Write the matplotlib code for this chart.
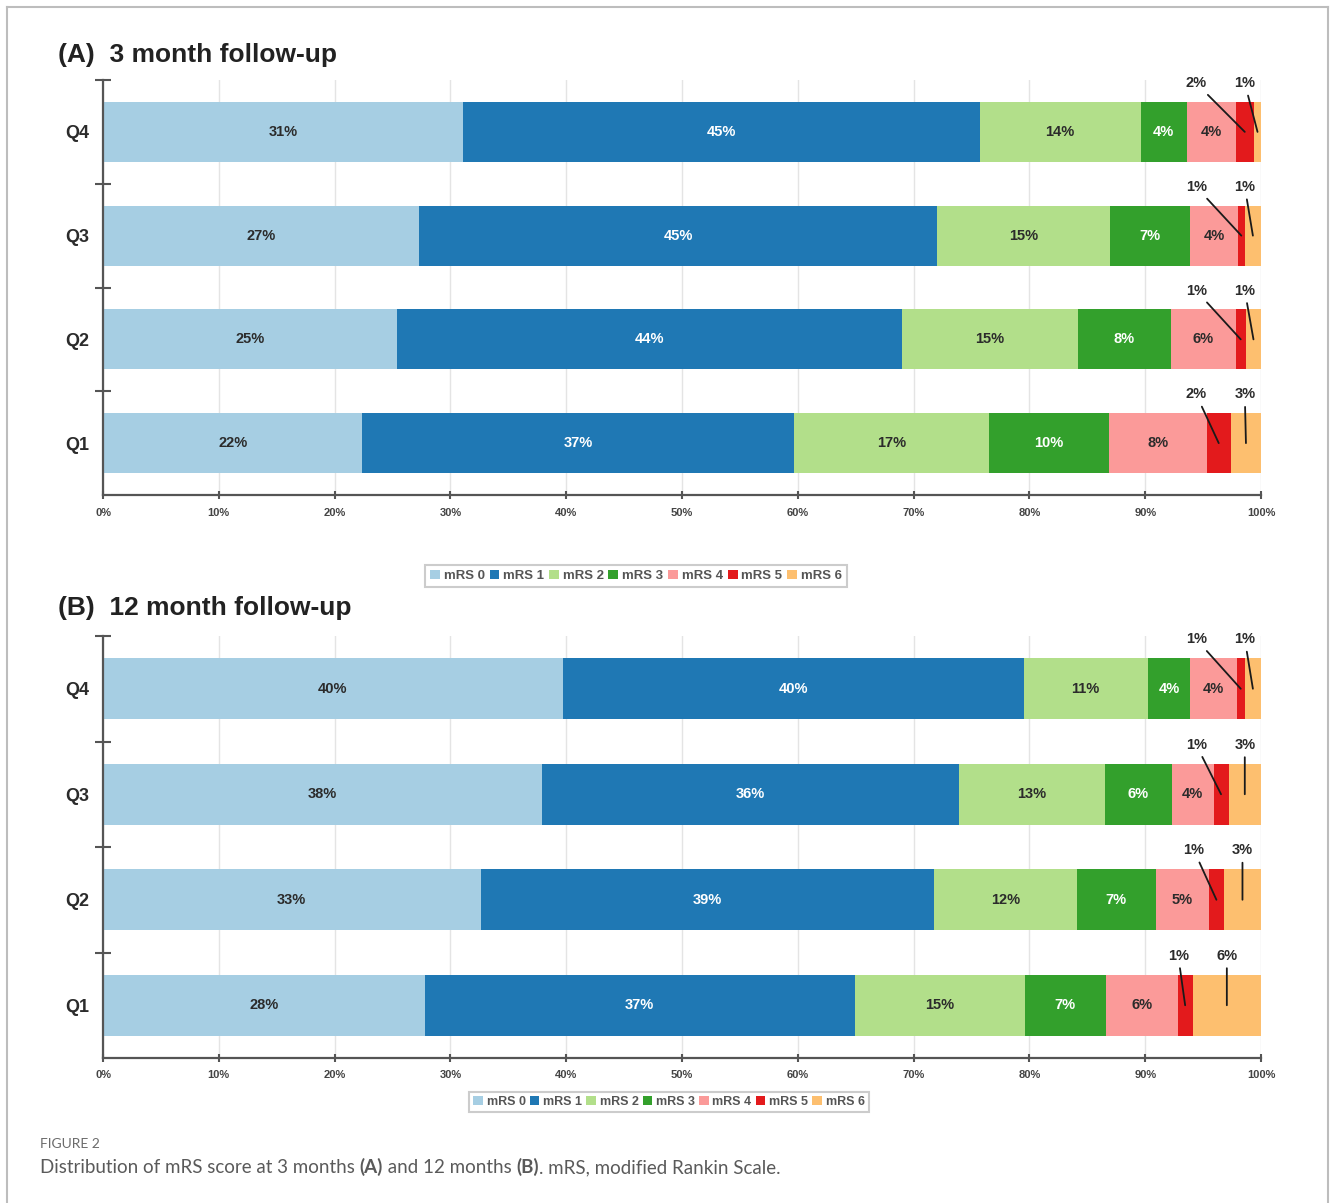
import matplotlib

matplotlib.use("Agg")

import matplotlib.pyplot as plt
from matplotlib.lines import Line2D
from matplotlib.offsetbox import AnchoredOffsetbox, HPacker, TextArea
from matplotlib.patches import Patch
from matplotlib.ticker import FixedLocator, FuncFormatter
import numpy as np


OUTPUT_PNG = "out.png"

QUARTILES = ["Q1", "Q2", "Q3", "Q4"]

MRS_LEVELS = [
    "mRS 0",
    "mRS 1",
    "mRS 2",
    "mRS 3",
    "mRS 4",
    "mRS 5",
    "mRS 6",
]

COLOURS = [
    "#a6cee3",
    "#1f78b4",
    "#b2df8a",
    "#33a02c",
    "#fb9a99",
    "#e31a1c",
    "#fdbf6f",
]

# percent of patients, rows Q1..Q4, columns mRS 0..6
MONTH_3 = [
    [22.4, 37.3, 16.8, 10.4, 8.4, 2.1, 2.6],
    [25.4, 43.6, 15.2, 8.0, 5.6, 0.9, 1.3],
    [27.3, 44.7, 15.0, 6.9, 4.1, 0.6, 1.4],
    [31.1, 44.6, 13.9, 4.0, 4.2, 1.6, 0.6],
]

MONTH_12 = [
    [27.8, 37.1, 14.7, 7.0, 6.2, 1.3, 5.9],
    [32.6, 39.2, 12.3, 6.8, 4.6, 1.3, 3.2],
    [37.9, 36.0, 12.6, 5.8, 3.6, 1.3, 2.8],
    [39.7, 39.8, 10.7, 3.7, 4.0, 0.7, 1.4],
]

PANEL_TITLES = [
    "(A)  3 month follow-up",
    "(B)  12 month follow-up",
]

X_TICKS = list(range(0, 101, 10))

WHITE_TEXT = {"mRS 1", "mRS 3"}
OUTSIDE_LABELS = {"mRS 5", "mRS 6"}

FONT = "Liberation Sans"
TEXT_DARK = "#2b2b2b"
AXIS_GREY = "#555555"

W, H = 1330, 1203


def fx(px):
    return px / W


def fy(py):
    return 1 - py / H


def draw_panel(axis, table):
    values = np.array(table, dtype=float)
    values = values / values.sum(axis=1, keepdims=True) * 100
    y = np.arange(len(QUARTILES))
    left = np.zeros(len(QUARTILES))

    for j, level in enumerate(MRS_LEVELS):
        axis.barh(
            y,
            values[:, j],
            left=left,
            height=0.58,
            color=COLOURS[j],
            linewidth=0,
            zorder=2,
        )

        if level not in OUTSIDE_LABELS:
            for i in range(len(y)):
                axis.text(
                    left[i] + values[i, j] / 2,
                    y[i],
                    f"{values[i, j]:.0f}%",
                    ha="center",
                    va="center",
                    fontsize=10.5,
                    fontweight="bold",
                    color="white" if level in WHITE_TEXT else TEXT_DARK,
                    zorder=3,
                )

        left = left + values[:, j]

    # small segments get a label above the bar with a leader line
    for i in range(len(y)):
        starts = np.concatenate([[0], np.cumsum(values[i])[:-1]])
        centres = starts + values[i] / 2
        x_six = min(centres[6], 98.6)
        x_five = min(centres[5], x_six - 4.2)

        for x_label, k in ((x_five, 5), (x_six, 6)):
            axis.annotate(
                f"{values[i, k]:.0f}%",
                xy=(centres[k], y[i]),
                xytext=(x_label, y[i] + 0.47),
                ha="center",
                va="center",
                fontsize=10.5,
                fontweight="bold",
                color=TEXT_DARK,
                zorder=4,
                arrowprops={
                    "arrowstyle": "-",
                    "color": "#1a1a1a",
                    "lw": 1.3,
                    "shrinkA": 2,
                    "shrinkB": 0,
                },
            )

    axis.set_xlim(0, 100)
    axis.set_ylim(-0.5, 3.5)

    axis.set_yticks(y)
    axis.set_yticklabels(QUARTILES, fontsize=13, fontweight="bold")
    axis.tick_params(axis="y", which="major", length=0, pad=10,
                     labelcolor=TEXT_DARK)
    axis.yaxis.set_minor_locator(FixedLocator([0.5, 1.5, 2.5, 3.5]))
    axis.tick_params(axis="y", which="minor", direction="inout",
                     length=12, width=1.5, color=AXIS_GREY)

    axis.set_xticks(X_TICKS)
    axis.xaxis.set_major_formatter(
        FuncFormatter(lambda value, position: f"{value:.0f}%")
    )
    axis.tick_params(axis="x", direction="inout", length=6, width=1.5,
                     color=AXIS_GREY, labelsize=8, labelcolor="#444444",
                     pad=6)
    for label in axis.get_xticklabels():
        label.set_fontweight("bold")

    axis.grid(axis="x", color="#e4e4e4", linewidth=1)
    axis.set_axisbelow(True)

    axis.spines["top"].set_visible(False)
    axis.spines["right"].set_visible(False)
    for side in ("left", "bottom"):
        axis.spines[side].set_color(AXIS_GREY)
        axis.spines[side].set_linewidth(1.6)


def add_legend(figure, centre, fontsize):
    handles = [
        Patch(facecolor=colour, edgecolor="none")
        for colour in COLOURS
    ]
    legend = figure.legend(
        handles,
        MRS_LEVELS,
        loc="center",
        bbox_to_anchor=centre,
        ncol=len(MRS_LEVELS),
        fontsize=fontsize,
        handlelength=0.75,
        handleheight=0.75,
        handletextpad=0.3,
        columnspacing=0.35,
        borderpad=0.35,
        fancybox=False,
        framealpha=1,
        edgecolor="#cccccc",
    )
    legend.get_frame().set_linewidth(1.5)
    for text in legend.get_texts():
        text.set_fontweight("bold")
        text.set_color("#555555")


def add_caption(figure):
    figure.text(
        fx(40),
        fy(1144),
        "FIGURE 2",
        fontsize=10,
        color="#6b6b6b",
        family="Lato",
        va="center",
    )

    pieces = [
        ("Distribution of mRS score at 3 months ", "normal"),
        ("(A)", "bold"),
        (" and 12 months ", "normal"),
        ("(B)", "bold"),
        (". mRS, modified Rankin Scale.", "normal"),
    ]
    boxes = [
        TextArea(
            text,
            textprops={
                "fontsize": 13.5,
                "color": "#5a5a5a",
                "family": "Lato",
                "fontweight": weight,
            },
        )
        for text, weight in pieces
    ]
    row = HPacker(children=boxes, align="baseline", pad=0, sep=0)
    anchored = AnchoredOffsetbox(
        loc="center left",
        child=row,
        pad=0,
        borderpad=0,
        frameon=False,
        bbox_to_anchor=(fx(40), fy(1167)),
        bbox_transform=figure.transFigure,
    )
    figure.add_artist(anchored)


def add_border(figure):
    colour = "#bdbdbd"
    figure.add_artist(Line2D([fx(7), fx(7)], [0, fy(7)],
                             transform=figure.transFigure,
                             color=colour, lw=1.5))
    figure.add_artist(Line2D([fx(7), fx(1328)], [fy(7), fy(7)],
                             transform=figure.transFigure,
                             color=colour, lw=1.5))
    figure.add_artist(Line2D([fx(1328), fx(1328)], [0, fy(7)],
                             transform=figure.transFigure,
                             color=colour, lw=1.5))


def main():
    plt.rcParams["font.family"] = [FONT, "DejaVu Sans"]

    figure = plt.figure(figsize=(W / 100, H / 100), dpi=100)

    axis_a = figure.add_axes([fx(103), fy(495), fx(1261) - fx(103),
                              fy(80) - fy(495)])
    axis_b = figure.add_axes([fx(103), fy(1058), fx(1261) - fx(103),
                              fy(636) - fy(1058)])

    draw_panel(axis_a, MONTH_3)
    draw_panel(axis_b, MONTH_12)

    figure.text(fx(58), fy(55), PANEL_TITLES[0], fontsize=19,
                fontweight="bold", color="#222222", va="center")
    figure.text(fx(58), fy(608), PANEL_TITLES[1], fontsize=19,
                fontweight="bold", color="#222222", va="center")

    add_legend(figure, (fx(636), fy(576)), 9.5)
    add_legend(figure, (fx(669), fy(1102)), 9)

    add_caption(figure)
    add_border(figure)

    figure.savefig(OUTPUT_PNG, dpi=100)
    plt.close(figure)


if __name__ == "__main__":
    main()
